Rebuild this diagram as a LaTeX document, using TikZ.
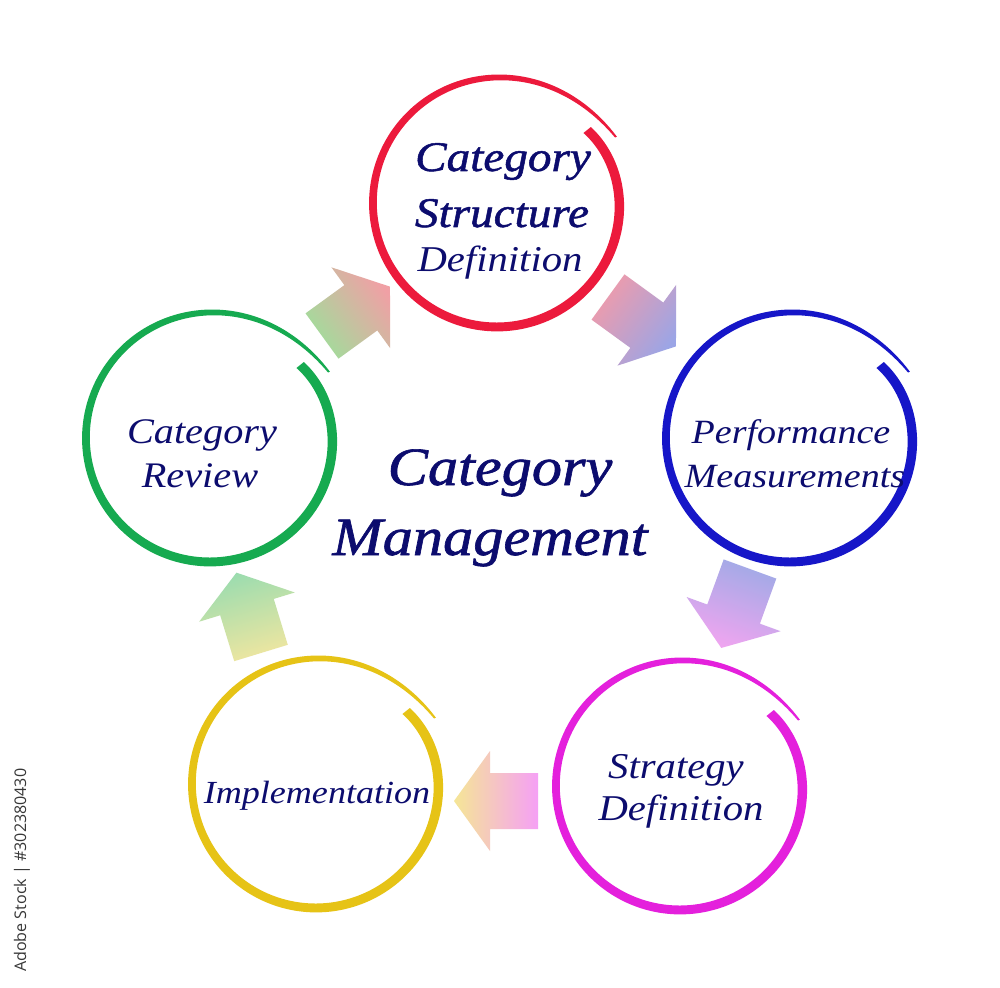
\documentclass[tikz,border=0pt]{standalone}
\usepackage{fontspec}
\setmainfont{Liberation Serif}
\newfontfamily\lblfont[FakeStretch=1.12]{Liberation Serif}
\newfontfamily\lblsemi[FakeStretch=1.12,FakeBold=1.2]{Liberation Serif}
\newfontfamily\wmfont{Open Sans}
\usetikzlibrary{calc}
\definecolor{navy}{RGB}{12,12,110}
\definecolor{ringred}{RGB}{236,26,60}
\definecolor{ringblue}{RGB}{22,22,200}
\definecolor{ringmag}{RGB}{228,32,220}
\definecolor{ringyel}{RGB}{230,195,22}
\definecolor{ringgrn}{RGB}{22,170,80}
\definecolor{agrn}{RGB}{160,222,155}
\definecolor{ared}{RGB}{240,160,165}
\definecolor{ared2}{RGB}{240,155,170}
\definecolor{ablu}{RGB}{155,165,230}
\definecolor{ablu2}{RGB}{160,170,230}
\definecolor{amag}{RGB}{240,165,240}
\definecolor{amag2}{RGB}{245,160,245}
\definecolor{ayel}{RGB}{245,230,150}
\definecolor{ayel2}{RGB}{240,230,160}
\definecolor{agrn2}{RGB}{155,220,175}
\definecolor{wm}{RGB}{55,55,55}
\tikzset{
  declare function={rr(\s)=124-8*exp(-\s/25)+12*exp(-(370-\s)/30);
                    ww(\s)=9.5-5*(\s/370)*(\s/370)-2.5*exp(-(370-\s)/25);},
  hub/.style={circle, minimum size=7.44cm, inner sep=0pt},
  labeltext/.style={text=navy, anchor=base, inner sep=0pt},
}
\newcommand{\brushring}[2]{%
  \fill[#2, shift={(#1.center)}]
    plot[smooth,variable=\s,domain=0:370,samples=150]
      ({(rr(\s)+ww(\s)/2)*cos(39-\s)},{(rr(\s)+ww(\s)/2)*sin(39-\s)})
    -- plot[smooth,variable=\s,domain=370:0,samples=150]
      ({(rr(\s)-ww(\s)/2)*cos(39-\s)},{(rr(\s)-ww(\s)/2)*sin(39-\s)})
    -- cycle;}
\newcommand{\blockarrow}[6]{%
  \coordinate (#1) at (#2,-#3);
  \pgfmathsetmacro\shang{#4-90}
  \path[shading=axis, top color=#6, bottom color=#5, shading angle=\shang]
    ($(#1)+(#4+90:28)$) -- ($(#1)+(#4:48)+(#4+90:28)$) -- ($(#1)+(#4:48)+(#4+90:50)$)
    -- ($(#1)+(#4:84)$)
    -- ($(#1)+(#4:48)+(#4-90:50)$) -- ($(#1)+(#4:48)+(#4-90:28)$) -- ($(#1)+(#4-90:28)$) -- cycle;}
\begin{document}
\begin{tikzpicture}[x=0.03cm,y=0.03cm]
\useasboundingbox[fill=white] (0,0) rectangle (1000,-988);

% circle positions
\node[hub] (csd) at (497,-203) {};
\node[hub] (pm)  at (790,-438) {};
\node[hub] (sd)  at (680,-786) {};
\node[hub] (imp) at (316,-784) {};
\node[hub] (cr)  at (210,-438) {};

% block arrows
\blockarrow{a1}{322}{336}{36}{agrn}{ared}
\blockarrow{a2}{608}{297}{-36}{ared2}{ablu}
\blockarrow{a3}{750}{569}{-110}{ablu2}{amag}
\blockarrow{a4}{538}{801}{180}{amag2}{ayel}
\blockarrow{a5}{261}{653}{107}{ayel2}{agrn2}

% rings
\brushring{csd}{ringred}
\brushring{pm}{ringblue}
\brushring{sd}{ringmag}
\brushring{imp}{ringyel}
\brushring{cr}{ringgrn}

% ring labels
\node[labeltext, font=\lblsemi\itshape\fontsize{36}{40}\selectfont] (csd1) at (503,-171) {Category};
\node[labeltext, font=\lblsemi\itshape\fontsize{36}{40}\selectfont] (csd2) at (502,-227) {Structure};
\node[labeltext, font=\lblfont\itshape\fontsize{31}{36}\selectfont] (csd3) at (500,-272) {Definition};
\node[labeltext, font=\lblfont\itshape\fontsize{29}{34}\selectfont] (pm1) at (791,-443) {Performance};
\node[labeltext, font=\lblfont\itshape\fontsize{29}{34}\selectfont] (pm2) at (795,-487) {Measurements};
\node[labeltext, font=\lblfont\itshape\fontsize{31}{36}\selectfont] (sd1) at (676,-778) {Strategy};
\node[labeltext, font=\lblfont\itshape\fontsize{31}{36}\selectfont] (sd2) at (681,-820) {Definition};
\node[labeltext, font=\lblfont\itshape\fontsize{27.5}{32}\selectfont] (imp1) at (317,-803) {Implementation};
\node[labeltext, font=\lblfont\itshape\fontsize{30.7}{36}\selectfont] (cr1) at (202,-443) {Category};
\node[labeltext, font=\lblfont\itshape\fontsize{30.7}{36}\selectfont] (cr2) at (200,-487) {Review};

% centre title
\node[labeltext, font=\lblsemi\itshape\fontsize{46}{50}\selectfont] (ttl1) at (500,-485) {Category};
\node[labeltext, font=\lblsemi\itshape\fontsize{46}{50}\selectfont] (ttl2) at (490,-555) {Management};

% stock caption
\node[font=\wmfont\fontsize{13.7}{16}\selectfont, text=wm, rotate=90, anchor=west, inner sep=0pt] (stock) at (22,-972) {Adobe Stock | \#302380430};
\end{tikzpicture}
\end{document}
